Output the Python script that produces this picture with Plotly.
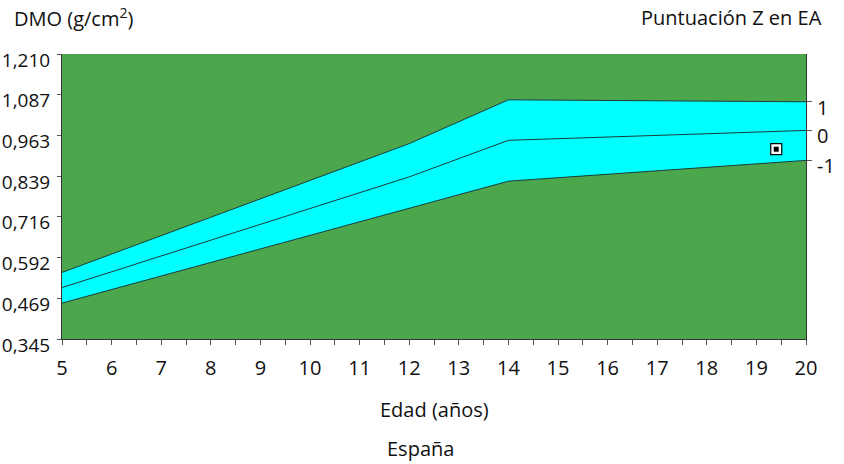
import plotly.graph_objects as go

# ---- data ----
ages = [5, 12, 14, 20]
upper = [0.547, 0.938, 1.071, 1.065]   # +1 SD
mean = [0.501, 0.837, 0.948, 0.978]    # mean (Z = 0)
lower = [0.454, 0.740, 0.824, 0.887]   # -1 SD

patient_age = [19.4]
patient_dmo = [0.921]

y_tickvals = [0.345, 0.469, 0.592, 0.716, 0.839, 0.963, 1.087, 1.210]
y_ticktext = ["0,345", "0,469", "0,592", "0,716", "0,839", "0,963", "1,087", "1,210"]
x_tickvals = list(range(5, 21))
z_ticktext = ["1", "0", "-1"]

GREEN = "#4ca64c"
CYAN = "#00ffff"
LINE = "#1e3b3b"
FONT = "Open Sans"
FS = 20

fig = go.Figure()
fig.add_trace(go.Scatter(x=ages, y=lower, mode="lines",
                         line=dict(color=LINE, width=1), hoverinfo="skip", showlegend=False))
fig.add_trace(go.Scatter(x=ages, y=upper, mode="lines", fill="tonexty", fillcolor=CYAN,
                         line=dict(color=LINE, width=1), hoverinfo="skip", showlegend=False))
fig.add_trace(go.Scatter(x=ages, y=mean, mode="lines",
                         line=dict(color=LINE, width=1), hoverinfo="skip", showlegend=False))
fig.add_trace(go.Scatter(x=patient_age, y=patient_dmo, mode="markers",
                         marker=dict(symbol="square", size=11, color="white",
                                     line=dict(color="black", width=1.2)),
                         hoverinfo="skip", showlegend=False))
fig.add_trace(go.Scatter(x=patient_age, y=patient_dmo, mode="markers",
                         marker=dict(symbol="square", size=5, color="black", line=dict(width=0)),
                         hoverinfo="skip", showlegend=False))
# anchor trace for right axis
fig.add_trace(go.Scatter(x=[ages[-1]], y=[mean[-1]], yaxis="y2", mode="markers",
                         marker=dict(opacity=0), hoverinfo="skip", showlegend=False))

yr = [y_tickvals[0], y_tickvals[-1]]
fig.update_layout(
    width=844, height=464,
    margin=dict(l=62, r=38, t=54, b=125, autoexpand=False),
    paper_bgcolor="white", plot_bgcolor=GREEN,
    font=dict(family=FONT, size=FS, color="#111111"),
    xaxis=dict(range=[ages[0], ages[-1]], tickvals=x_tickvals, ticktext=[str(v) for v in x_tickvals],
               ticks="outside", ticklen=5, tickcolor="#555555", showgrid=False, zeroline=False,
               showline=True, linecolor="#333333", linewidth=1, automargin=False,
               minor=dict(dtick=0.5, ticks="outside", ticklen=5, tickcolor="#555555", showgrid=False),
               ticklabelstandoff=6),
    yaxis=dict(range=yr, tickvals=y_tickvals, ticktext=y_ticktext, ticks="outside", ticklen=4,
               tickcolor="#555555", showgrid=False, zeroline=False, showline=True, automargin=False,
               linecolor="#333333", linewidth=1, ticklabelshift=6, ticklabelstandoff=3,
               tickfont=dict(size=19)),
    yaxis2=dict(range=yr, overlaying="y", side="right", automargin=False,
                tickvals=[upper[-1], mean[-1], lower[-1]], ticktext=z_ticktext,
                ticks="outside", ticklen=5, tickcolor="#555555", showgrid=False, zeroline=False,
                showline=True, linecolor="#333333", linewidth=1, ticklabelshift=6,
                ticklabelstandoff=1),
    annotations=[
        dict(text="DMO (g/cm<sup>2</sup>)", xref="paper", yref="paper",
             x=(12 - 62) / 744, y=(339 - 17) / 285, xanchor="left", yanchor="middle",
             showarrow=False, font=dict(size=FS)),
        dict(text="Puntuación Z en EA", xref="paper", yref="paper",
             x=(824 - 62) / 744, y=(339 - 17) / 285, xanchor="right", yanchor="middle",
             showarrow=False, font=dict(size=FS)),
        dict(text="Edad (años)", xref="paper", yref="paper",
             x=(434 - 62) / 744, y=(339 - 410) / 285, xanchor="center", yanchor="middle",
             showarrow=False, font=dict(size=FS)),
        dict(text="España", xref="paper", yref="paper",
             x=(420 - 62) / 744, y=(339 - 449) / 285, xanchor="center", yanchor="middle",
             showarrow=False, font=dict(size=FS)),
    ],
)

fig.write_html("out.html", config={"displayModeBar": False},
               post_script="document.body.style.margin='0';document.body.style.overflow='hidden';")
